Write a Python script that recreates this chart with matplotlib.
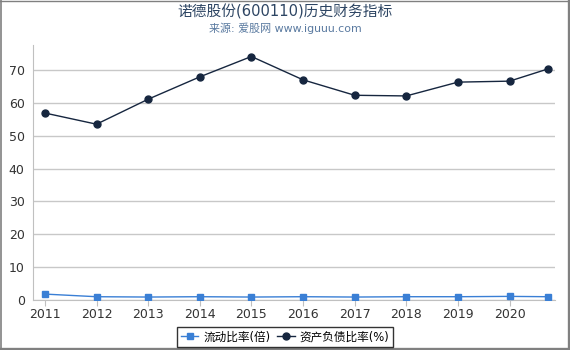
import matplotlib
matplotlib.use("Agg")
import matplotlib.pyplot as plt
from matplotlib.lines import Line2D

plt.rcParams['font.family'] = ['DejaVu Sans', 'Noto Sans CJK SC']

years = [2011, 2012, 2013, 2014, 2015, 2016, 2017, 2018, 2019, 2020, 2020.74]
tick_years = [2011, 2012, 2013, 2014, 2015, 2016, 2017, 2018, 2019, 2020]
current_ratio = [1.8, 1.0, 0.9, 1.0, 0.9, 1.0, 0.9, 1.0, 1.0, 1.1, 1.0]
debt_ratio = [56.9, 53.5, 61.1, 67.9, 74.1, 67.0, 62.3, 62.1, 66.3, 66.6, 70.3]
yticks = [0, 10, 20, 30, 40, 50, 60, 70]

fig = plt.figure(figsize=(5.7, 3.5), dpi=100)
ax = fig.add_axes([33/570, 1-300/350, (555-33)/570, (300-45)/350])

ax.plot(years, current_ratio, color='#3a7fd5', lw=1, marker='s', ms=5,
        markerfacecolor='#3a7fd5', markeredgecolor='#3a7fd5', label='流动比率(倍)', zorder=3)
ax.plot(years, debt_ratio, color='#16263f', lw=1, marker='o', ms=5,
        label='资产负债比率(%)', zorder=3)

ax.set_xlim(2010.77, 2020.88)
ax.set_ylim(0, 77.6)
ax.set_yticks(yticks)
ax.set_xticks(tick_years)
ax.set_xticklabels([str(y) for y in tick_years])
ax.grid(axis='y', color='#c8c8c8', lw=1)
ax.set_axisbelow(True)
for s in ['top', 'right']:
    ax.spines[s].set_visible(False)
for s in ['left', 'bottom']:
    ax.spines[s].set_color('#c0c0c0')
ax.tick_params(axis='y', length=0, labelsize=9, colors='#333333', pad=6)
ax.tick_params(axis='x', length=4, color='#c0c0c0', labelsize=9, labelcolor='#333333', pad=2)

fig.text(0.5, 1-12/350, '诺德股份(600110)历史财务指标', ha='center', va='center',
         fontsize=10.6, color='#2d4563')
fig.text(0.5, 1-28/350, '来源: 爱股网 www.iguuu.com', ha='center', va='center',
         fontsize=7.9, color='#5a7aa0')

leg = fig.legend(loc='center', bbox_to_anchor=(0.5, 1-337/350), ncol=2, fontsize=8.4,
                 frameon=True, fancybox=False, edgecolor='black', handlelength=1.5,
                 handletextpad=0.4, columnspacing=0.6, borderpad=0.3)
leg.get_frame().set_linewidth(1)

# figure border (thin top/left, thick right/bottom)
W, H = 570, 350
def fx(px): return px / W
def fy(py): return 1 - py / H
border = '#808080'
fig.add_artist(Line2D([0, 1], [fy(0.5), fy(0.5)], transform=fig.transFigure, color=border, lw=1))
fig.add_artist(Line2D([fx(0.8), fx(0.8)], [0, 1], transform=fig.transFigure, color=border, lw=1.2))
fig.add_artist(Line2D([fx(568.5), fx(568.5)], [0, 1], transform=fig.transFigure, color=border, lw=2.4))
fig.add_artist(Line2D([0, 1], [fy(348.5), fy(348.5)], transform=fig.transFigure, color=border, lw=2.4))

fig.savefig('out.png', dpi=100)
